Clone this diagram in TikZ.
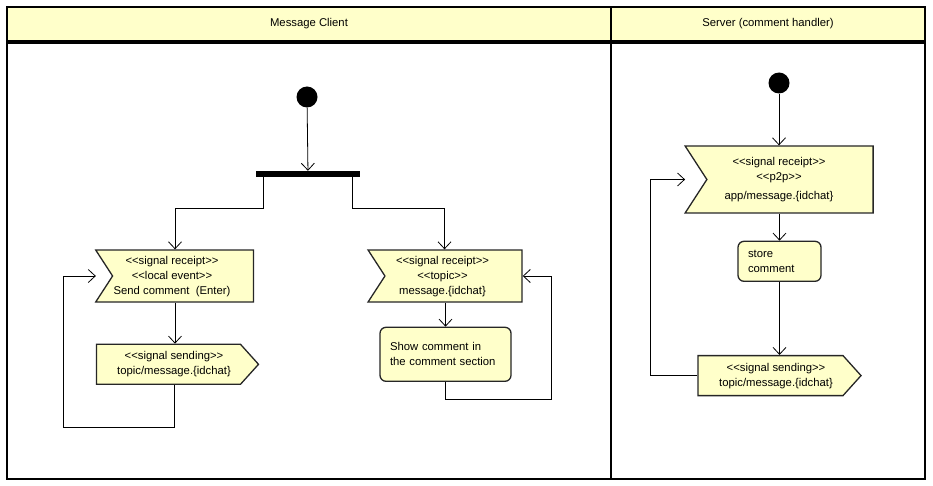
\documentclass[tikz,border=0pt]{standalone}
\usepackage{fontspec}
\setmainfont{Liberation Sans}[Ligatures=TeXOff]
\usetikzlibrary{positioning,shapes.symbols,arrows.meta}
\definecolor{umlyellow}{RGB}{255,255,202}
\newcommand{\receiptlines}[1]{\begin{tabular}{@{}c@{\hspace{22pt}}}#1\end{tabular}}
\newcommand{\sendinglines}[1]{\begin{tabular}{@{\hspace{11pt}}c@{}}#1\end{tabular}}

\begin{document}
\begin{tikzpicture}[x=1pt,y=-1pt,
                    >={Straight Barb[length=7pt,width=13pt]},
                    font=\fontsize{11.3}{15}\selectfont,
                    lane/.style={draw,line width=1.8pt,inner sep=0pt},
                    header/.style={lane,fill=umlyellow,minimum height=34pt},
                    start node/.style={circle,fill=black,minimum size=21pt,inner sep=0pt},
                    bar node/.style={fill=black,minimum width=104pt,minimum height=6pt,inner sep=0pt},
                    receipt node/.style={signal,signal to=nowhere,signal from=west,signal pointer angle=114,
                        draw=black!85,line width=1.3pt,fill=umlyellow,inner sep=1pt},
                    sending node/.style={signal,signal to=east,signal pointer angle=96,
                        draw=black!85,line width=1.3pt,fill=umlyellow,inner sep=1pt,minimum height=40pt},
                    action node/.style={rectangle,rounded corners=6pt,draw=black!85,line width=1.3pt,
                        fill=umlyellow,align=left,inner xsep=10pt},
                    flow/.style={->,line width=0.8pt}]
        \useasboundingbox (0,0) rectangle (933,486);

        % Define swimlanes
        \node[header,minimum width=604pt] (client head) at (309,24) {Message Client};
        \node[header,minimum width=314pt] (server head) at (768,24) {Server (comment handler)};
        \node[lane,minimum width=604pt,minimum height=436pt,anchor=north] (client lane) at (client head.south) {};
        \node[lane,minimum width=314pt,minimum height=436pt,anchor=north] (server lane) at (server head.south) {};

        % Define client nodes
        \node[start node] (client start) at (307,97) {};
        \node[bar node] (fork) at (308,174) {};
        \node[receipt node,minimum width=157pt,minimum height=52pt] (local event) at (183,276)
            {\receiptlines{<<signal receipt>>\\<<local event>>\\Send comment~~(Enter)}};
        \node[sending node,minimum width=162pt] (send local) [below=41pt of local event,xshift=-14.5pt]
            {\sendinglines{<<signal sending>>\\topic/message.\{idchat\}}};
        \node[receipt node,minimum width=154pt,minimum height=52pt] (topic event) at (453.5,276)
            {\receiptlines{<<signal receipt>>\\<<topic>>\\message.\{idchat\}}};
        \node[action node,text width=111pt,minimum height=54pt] (show comment) [below=24pt of topic event,xshift=-8pt]
            {Show comment in\\the comment section};

        % Define server nodes
        \node[start node] (server start) at (779,83) {};
        \node[receipt node,minimum width=188pt,minimum height=67pt] (p2p event) at (790,179.5)
            {\receiptlines{<<signal receipt>>\\<<p2p>>\\[4pt]app/message.\{idchat\}}};
        \node[action node,text width=63pt,minimum height=40pt] (store) [below=27pt of p2p event,xshift=-10.5pt]
            {store\\comment};
        \node[sending node,minimum width=163pt] (send p2p) [below=73pt of store,xshift=-9pt]
            {\sendinglines{<<signal sending>>\\topic/message.\{idchat\}}};

        % Draw client flows
        \draw[flow] (client start) -- (fork);
        \draw[flow] ([xshift=-45pt]fork.south) -- ++(0,31) -| ([xshift=-8pt]local event.north);
        \draw[flow] ([xshift=44pt]fork.south) -- ++(0,31) -| ([xshift=-9pt]topic event.north);
        \draw[flow] ([xshift=-8pt]local event.south) -- ++(0,41);
        \draw[flow] ([xshift=6pt]send local.south) -- ++(0,42) -| ([xshift=-32pt]send local.west |- local event.west)
            -- (local event.west -| send local.west);
        \draw[flow] (topic event.south -| show comment.north) -- (show comment.north);
        \draw[flow] (show comment.south) -- ++(0,17) -| ([xshift=29pt]topic event.east) -- (topic event.east);

        % Draw server flows
        \draw[flow] (server start) -- (server start |- p2p event.north);
        \draw[flow] (p2p event.south -| store.north) -- (store.north);
        \draw[flow] (store) -- (store |- send p2p.north);
        \draw[flow] (send p2p.west) -- ++(-47,0) |- ([xshift=-21pt]p2p event.west);

\end{tikzpicture}
\end{document}
